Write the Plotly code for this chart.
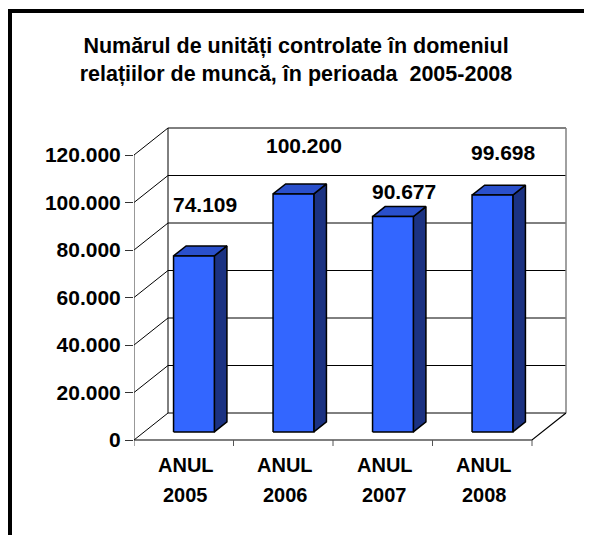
import plotly.graph_objects as go

# ---- data ----
label_top = ["ANUL", "ANUL", "ANUL", "ANUL"]
label_year = ["2005", "2006", "2007", "2008"]
values = [74109, 100200, 90677, 99698]
value_labels = ["74.109", "100.200", "90.677", "99.698"]
y_ticks = [0, 20000, 40000, 60000, 80000, 100000, 120000]
y_tick_text = [f"{v:,}".replace(",", ".") for v in y_ticks]
title_text = "Numărul de unități controlate în domeniul<br>relațiilor de muncă, în perioada  2005-2008"

# ---- layout geometry (style) ----
# the page body has an 8px margin, so the figure is sized to fill the rest of the window
OFF = 8
W, H = 592 - OFF, 535 - OFF
ML, MR, MT, MB = 134 - OFF, 18, 100 - OFF, 75
PX_X = 99.5              # pixels per category band
PX_Y = 47.5 / 20000      # pixels per value unit
plot_w = W - ML - MR
plot_h = H - MT - MB
FLOOR_PX = 440 - OFF
y_min = -((H - MB) - FLOOR_PX) / PX_Y
y_max = y_min + plot_h / PX_Y
x_max = plot_w / PX_X

N = len(values)
YTOP = y_ticks[-1]
DX = 34 / PX_X           # depth offset in category units
DY = 27 / PX_Y           # depth offset in value units
F1, F2 = 0.30, 0.67      # bar front/back depth fractions
BAR_W = 0.41

FONT = "Liberation Sans, Arial, Helvetica, sans-serif"
C_FRONT = "#3366FF"
C_TOP = "#2A50CC"
C_SIDE = "#1B3282"

fig = go.Figure()

def line_trace(xs, ys, color="black", width=1):
    fig.add_trace(go.Scatter(x=xs, y=ys, mode="lines", line=dict(color=color, width=width),
                             hoverinfo="skip", showlegend=False))

# back wall gridlines (incl. floor back edge and top edge)
gx, gy = [], []
for v in y_ticks:
    gx += [0, DX, N + DX, None]
    gy += [v, v + DY, v + DY, None]
line_trace(gx, gy, "black", 1)
# back wall left edge
line_trace([DX, DX], [DY, YTOP + DY], "black", 1)
# back wall right edge (grey)
line_trace([N + DX, N + DX], [DY, YTOP + DY], "#808080", 1.5)
# front value axis
line_trace([0, 0], [0, YTOP], "#333333", 1)
# floor front edge and right diagonal
line_trace([0, N, N + DX], [0, 0, DY], "black", 1.2)
# category boundary ticks
tx, ty = [], []
for k in range(N + 1):
    tx += [k, k, None]
    ty += [0, -6 / PX_Y, None]
line_trace(tx, ty, "#555555", 1)

# bars
for i, v in enumerate(values):
    c = i + 0.5
    x0 = c - BAR_W / 2 + F1 * DX
    x1 = c + BAR_W / 2 + F1 * DX
    yb = F1 * DY
    yt = v + F1 * DY
    ddx = (F2 - F1) * DX
    ddy = (F2 - F1) * DY
    faces = [
        ([x1, x1 + ddx, x1 + ddx, x1, x1], [yb, yb + ddy, yt + ddy, yt, yb], C_SIDE),
        ([x0, x1, x1 + ddx, x0 + ddx, x0], [yt, yt, yt + ddy, yt + ddy, yt], C_TOP),
        ([x0, x1, x1, x0, x0], [yb, yb, yt, yt, yb], C_FRONT),
    ]
    for xs, ys, col in faces:
        fig.add_trace(go.Scatter(x=xs, y=ys, mode="lines", fill="toself", fillcolor=col,
                                 line=dict(color="black", width=1.5), hoverinfo="skip",
                                 showlegend=False))

annotations = []
label_shift = [59, 57, 33, 51]
for i, v in enumerate(values):
    annotations.append(dict(x=i + 0.5 + 0.21, y=v, xref="x", yref="y", text=value_labels[i],
                            showarrow=False, yshift=label_shift[i], yanchor="middle",
                            font=dict(family=FONT, size=21, color="black", weight="bold")))
    annotations.append(dict(x=i + 0.5, y=0, xref="x", yref="y", text=label_top[i],
                            showarrow=False, yshift=-25, xshift=2, yanchor="middle",
                            font=dict(family=FONT, size=20, color="black", weight="bold")))
    annotations.append(dict(x=i + 0.5, y=0, xref="x", yref="y", text=label_year[i],
                            showarrow=False, yshift=-55, xshift=2, yanchor="middle",
                            font=dict(family=FONT, size=20, color="black", weight="bold")))

# outer border (only top and left visible in frame)
def px2paper(px, py):
    return (px - ML) / plot_w, ((H - MB) - py) / plot_h

bl = px2paper(10 - OFF, H)
tl = px2paper(10 - OFF, 11 - OFF)
tr = px2paper(W, 11 - OFF)
border_left = dict(type="line", xref="paper", yref="paper", x0=bl[0], y0=bl[1],
                   x1=tl[0], y1=tl[1] + 2 / plot_h, line=dict(color="black", width=4))
border_top = dict(type="line", xref="paper", yref="paper", x0=tl[0] - 2 / plot_w, y0=tl[1],
                  x1=tr[0], y1=tr[1], line=dict(color="black", width=4))

fig.update_layout(
    width=W, height=H,
    margin=dict(l=ML, r=MR, t=MT, b=MB),
    paper_bgcolor="white", plot_bgcolor="white",
    title=dict(text=title_text, x=(296 - OFF) / W, xref="container", xanchor="center",
               y=1 - (53 - OFF) / H, yref="container", yanchor="middle",
               font=dict(family=FONT, size=21.5, color="black", weight="bold")),
    xaxis=dict(range=[0, x_max], visible=False, fixedrange=True),
    yaxis=dict(range=[y_min, y_max], tickvals=y_ticks, ticktext=y_tick_text,
               ticks="outside", ticklen=8, tickcolor="#333333", tickwidth=1,
               showgrid=False, zeroline=False, showline=False,
               tickfont=dict(family=FONT, size=21, color="black", weight="bold"),
               fixedrange=True),
    annotations=annotations,
    shapes=[border_left, border_top],
)

fig.write_html("out.html", config={"displayModeBar": False})
